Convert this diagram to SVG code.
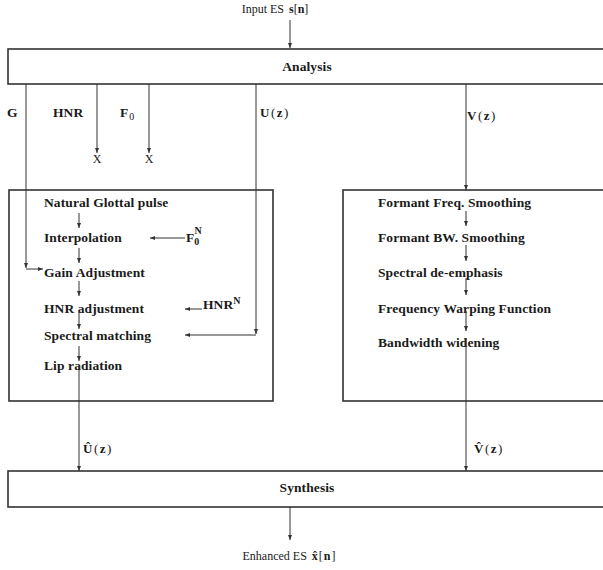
<svg xmlns="http://www.w3.org/2000/svg" width="603" height="570" viewBox="0 0 603 570">
<style>
  text { font-family: "Liberation Serif", "Times New Roman", serif; fill: #1a1a1a; font-size: 12px; }
  .b { font-weight: bold; }
  .t { font-weight: bold; font-size: 13.5px; letter-spacing: 0.1px; }
  .m { font-size: 13px; letter-spacing: 1.5px; }
  .box { fill: none; stroke: #333; stroke-width: 1.6; }
  .ln { fill: none; stroke: #333; stroke-width: 1; }
  .mid { text-anchor: middle; }
</style>
<defs>
  <marker id="ah" markerWidth="6" markerHeight="6" refX="5" refY="3" orient="auto" markerUnits="userSpaceOnUse">
    <path d="M0,1 L5,3 L0,5 Z" fill="#333"/>
  </marker>
</defs>

<g id="input">
  <text x="275" y="13" class="mid">Input ES <tspan class="b" dx="2">s</tspan>[<tspan class="b">n</tspan>]</text>
</g>

<g id="analysis">
  <rect class="box" x="8" y="49" width="610" height="35"/>
  <text x="307" y="71" class="t mid">Analysis</text>
</g>

<g id="param-labels">
  <text x="7" y="117" class="t">G</text>
  <text x="53" y="117" class="t">HNR</text>
  <text x="120" y="117" class="t">F<tspan font-size="10" dx="1" dy="3" font-weight="normal">0</tspan></text>
  <text x="260" y="117" class="m"><tspan class="b">U</tspan>(<tspan class="b">z</tspan>)</text>
  <text x="467" y="120" class="m"><tspan class="b">V</tspan>(<tspan class="b">z</tspan>)</text>
  <text x="97" y="163" class="mid">X</text>
  <text x="149" y="163" class="mid">X</text>
</g>

<g id="glottal-box">
  <rect class="box" x="9" y="190" width="264" height="211"/>
  <text x="44" y="207" class="t">Natural Glottal pulse</text>
  <text x="44" y="242" class="t">Interpolation</text>
  <text x="44" y="277" class="t">Gain Adjustment</text>
  <text x="44" y="313" class="t">HNR adjustment</text>
  <text x="44" y="340" class="t">Spectral matching</text>
  <text x="44" y="370" class="t">Lip radiation</text>
  <text x="186" y="242" class="t">F<tspan font-size="10" dy="3">0</tspan><tspan font-size="10" dx="-5" dy="-11">N</tspan></text>
  <text x="203" y="309" class="t">HNR<tspan font-size="10" dy="-5">N</tspan></text>
</g>

<g id="vocal-box">
  <rect class="box" x="343" y="190" width="270" height="211"/>
  <text x="378" y="207" class="t">Formant Freq. Smoothing</text>
  <text x="378" y="242" class="t">Formant BW. Smoothing</text>
  <text x="378" y="277" class="t">Spectral de-emphasis</text>
  <text x="378" y="313" class="t">Frequency Warping Function</text>
  <text x="378" y="347" class="t">Bandwidth widening</text>
</g>

<g id="synth-labels">
  <text x="83" y="453" class="m"><tspan class="b">Û</tspan>(<tspan class="b">z</tspan>)</text>
  <text x="474" y="453" class="m"><tspan class="b">V̂</tspan>(<tspan class="b">z</tspan>)</text>
</g>

<g id="synthesis">
  <rect class="box" x="8" y="471" width="610" height="36"/>
  <text x="307" y="492" class="t mid">Synthesis</text>
</g>

<g id="output">
  <text x="289" y="560" class="mid" font-size="12.5">Enhanced ES <tspan class="b" dx="2">x̂</tspan><tspan dx="1">[</tspan><tspan class="b" dx="1">n</tspan><tspan dx="1">]</tspan></text>
</g>

<g id="connectors">
  <path class="ln" d="M290,20 V48" marker-end="url(#ah)"/>
  <path class="ln" d="M26,84 V268"  marker-end="url(#ah)"/>
  <path class="ln" d="M26,269 H43" marker-end="url(#ah)"/>
  <path class="ln" d="M97,84 V153" marker-end="url(#ah)"/>
  <path class="ln" d="M149,84 V153" marker-end="url(#ah)"/>
  <path class="ln" d="M256,84 V334" marker-end="url(#ah)"/>
  <path class="ln" d="M256,335 H185" marker-end="url(#ah)"/>
  <path class="ln" d="M466,84 V190" marker-end="url(#ah)"/>
  <path class="ln" d="M185,238 H150" marker-end="url(#ah)"/>
  <path class="ln" d="M202,309 H185" marker-end="url(#ah)"/>
  <path class="ln" d="M79,213 V228" marker-end="url(#ah)"/>
  <path class="ln" d="M79,248 V263" marker-end="url(#ah)"/>
  <path class="ln" d="M79,281 V296" marker-end="url(#ah)"/>
  <path class="ln" d="M79,312 V329" marker-end="url(#ah)"/>
  <path class="ln" d="M79,346 V361" marker-end="url(#ah)"/>
  <path class="ln" d="M79,366 V471" marker-end="url(#ah)"/>
  <path class="ln" d="M466,211 V226" marker-end="url(#ah)"/>
  <path class="ln" d="M466,245 V261" marker-end="url(#ah)"/>
  <path class="ln" d="M466,278 V295" marker-end="url(#ah)"/>
  <path class="ln" d="M466,311 V331" marker-end="url(#ah)"/>
  <path class="ln" d="M466,338 V471" marker-end="url(#ah)"/>
  <path class="ln" d="M290,507 V540" marker-end="url(#ah)"/>
</g>
</svg>
